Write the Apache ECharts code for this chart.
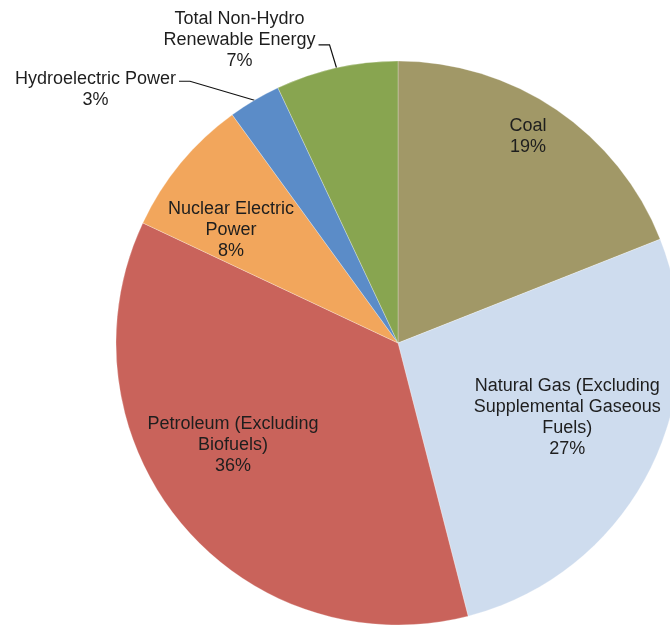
<!DOCTYPE html>
<html lang="en">
<head>
    <meta charset="UTF-8" />
    <title>Energy consumption by source</title>
    <script src="https://cdn.jsdelivr.net/npm/echarts@6/dist/echarts.min.js"></script>
    <style>
        html, body { margin: 0; padding: 0; background: #fff; }
        #main { width: 670px; height: 626px; }
    </style>
</head>
<body>
    <div id="main"></div>
    <script>
        // categories, clockwise from 12 o'clock
        const sources = [
            'Coal',
            'Natural Gas (Excluding\nSupplemental Gaseous\nFuels)',
            'Petroleum (Excluding\nBiofuels)',
            'Nuclear Electric\nPower',
            'Hydroelectric Power',
            'Total Non-Hydro\nRenewable Energy'
        ];
        const shares = [19, 27, 36, 8, 3, 7];
        const colors = ['#a19867', '#cedcee', '#c9635b', '#f2a65c', '#5b8cc8', '#88a550'];
        const outsideLabel = [false, false, false, false, true, true];
        // inside labels: nudge from default spot; outside labels: offset from slice edge
        const labelShift = [[49, -87], [41, 9], [-54, 10], [-56, -21], [-159, -11], [-97, -28]];
        // where the leader line meets the outside label, relative to its middle
        const leaderDy = [0, 0, 0, 0, -8, 5];

        var chartDom = document.getElementById('main');
        var myChart = echarts.init(chartDom);

        const pieData = sources.map((name, i) => ({
            name: name,
            value: shares[i],
            itemStyle: { color: colors[i] },
            label: { position: outsideLabel[i] ? 'outside' : 'inside' },
            labelLine: { show: outsideLabel[i] }
        }));

        var option = {
            animation: false,
            series: [
                {
                    type: 'pie',
                    center: [398, 343],
                    radius: 282,
                    startAngle: 90,
                    clockwise: true,
                    avoidLabelOverlap: false,
                    itemStyle: {
                        borderColor: 'rgba(255,255,255,0.45)',
                        borderWidth: 0.6
                    },
                    label: {
                        show: true,
                        formatter: '{b}\n{d}%',
                        fontFamily: 'Liberation Sans, Arial, sans-serif',
                        fontSize: 18,
                        lineHeight: 21,
                        color: '#1e1e1e',
                        align: 'center'
                    },
                    labelLine: {
                        length: 15,
                        length2: 12,
                        lineStyle: { color: '#111', width: 1.2 }
                    },
                    labelLayout: function (params) {
                        const i = params.dataIndex;
                        const s = labelShift[i];
                        if (!outsideLabel[i]) {
                            return { dx: s[0], dy: s[1] };
                        }
                        const edge = params.labelLinePoints[0];
                        const cx = edge[0] + s[0];
                        const cy = edge[1] + s[1];
                        const right = cx + params.labelRect.width / 2;
                        const ly = cy + leaderDy[i];
                        return {
                            x: cx,
                            y: cy,
                            align: 'center',
                            verticalAlign: 'middle',
                            labelLinePoints: [edge, [right + 14, ly], [right + 3, ly]]
                        };
                    },
                    data: pieData
                }
            ]
        };

        myChart.setOption(option);
    </script>
</body>
</html>
